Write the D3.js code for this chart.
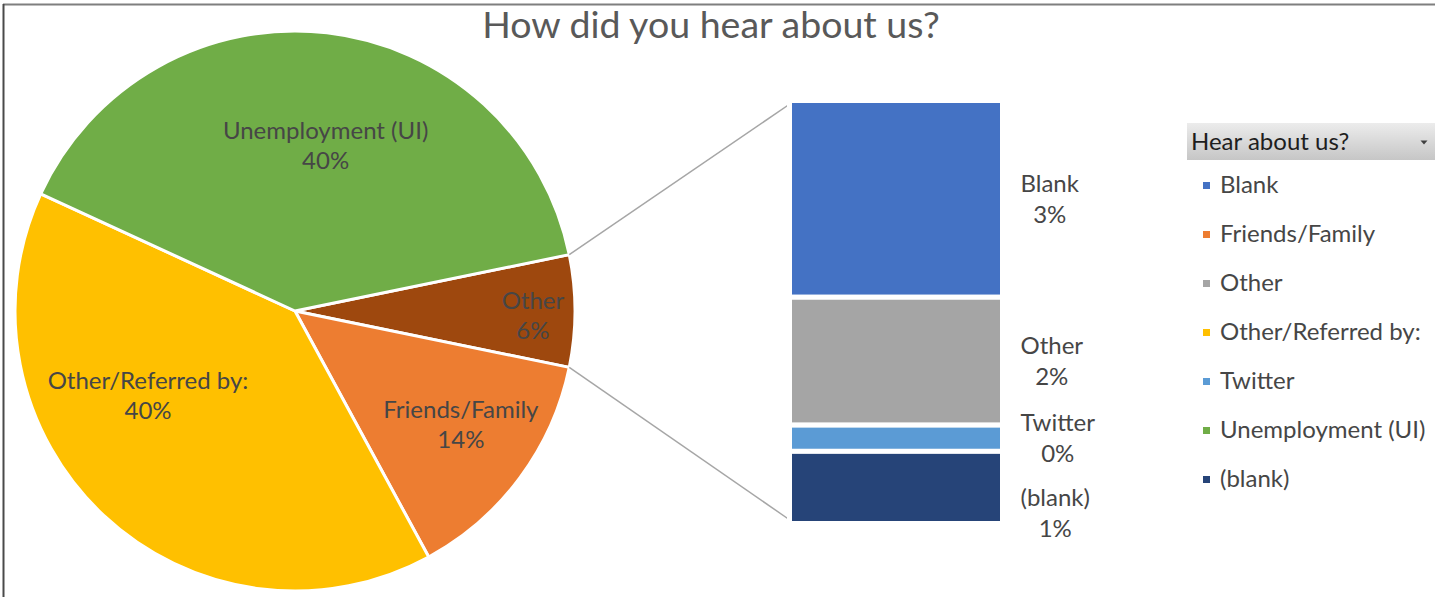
<!DOCTYPE html>
<html>
<head>
<meta charset="utf-8">
<script src="https://cdnjs.cloudflare.com/ajax/libs/d3/7.8.5/d3.min.js"></script>
<style>
    body { margin: 0; background: white; }
    svg { display: block; }
    text { font-family: Lato, "Noto Sans", sans-serif; }
</style>
</head>
<body>
<div id="chart"></div>
<script>
    // pie slices (percent of responses)
    const pieNames = ["Unemployment (UI)", "Other/Referred by:", "Friends/Family"]
    const pieValues = [39.9, 39.8, 13.85]
    // the small ones that get split into the bar
    const barNames = ["Blank", "Other", "Twitter", "(blank)"]
    const barValues = [3.0, 1.95, 0.4, 1.1]
    const legendNames = ["Blank", "Friends/Family", "Other", "Other/Referred by:", "Twitter", "Unemployment (UI)", "(blank)"]

    const colors = {
        "Blank": "#4472c4",
        "Friends/Family": "#ed7d31",
        "Other": "#a5a5a5",
        "Other/Referred by:": "#ffc000",
        "Twitter": "#5b9bd5",
        "Unemployment (UI)": "#70ad47",
        "(blank)": "#264478"
    }
    const otherSliceColor = "#9e480e"

    const w = 1435, h = 597
    const cx = 295, cy = 311, r = 280
    const labelColor = "#464646"
    const fs = 24

    const svg = d3.select("#chart").append("svg")
        .attr("width", w)
        .attr("height", h)

    // frame (only top and left edges show in the screenshot)
    svg.append("line").attr("x1", 3).attr("x2", w).attr("y1", 4.5).attr("y2", 4.5)
        .attr("stroke", "#7f7f7f").attr("stroke-width", 2)
    svg.append("line").attr("x1", 3.5).attr("x2", 3.5).attr("y1", 4).attr("y2", h)
        .attr("stroke", "#4a4a4a").attr("stroke-width", 2)

    svg.append("text")
        .attr("x", 711).attr("y", 38)
        .attr("text-anchor", "middle")
        .attr("font-size", 37.5)
        .attr("fill", "#595959")
        .text("How did you hear about us?")

    const otherTotal = d3.sum(barValues)
    const total = d3.sum(pieValues) + otherTotal
    const pct = v => Math.round(v / total * 100) + "%"

    // excel order going clockwise from the 3 o'clock "Other" slice
    const order = ["Other", "Friends/Family", "Other/Referred by:", "Unemployment (UI)"]
    const slices = [{ name: "Other", value: otherTotal, color: otherSliceColor }]
        .concat(pieNames.map((n, i) => ({ name: n, value: pieValues[i], color: colors[n] })))
    slices.sort((a, b) => order.indexOf(a.name) - order.indexOf(b.name))

    const otherAngle = 2 * Math.PI * otherTotal / total
    const a0 = Math.PI / 2 - otherAngle / 2
    const pie = d3.pie().sort(null).value(d => d.value)
        .startAngle(a0).endAngle(a0 + 2 * Math.PI)
    const arcs = pie(slices)
    const arc = d3.arc().innerRadius(0).outerRadius(r)

    const g = svg.append("g").attr("transform", `translate(${cx},${cy})`)
    g.selectAll("path")
        .data(arcs)
        .enter()
        .append("path")
        .attr("d", arc)
        .attr("fill", d => d.data.color)
        .attr("stroke", "white")
        .attr("stroke-width", 3)
        .attr("stroke-linejoin", "round")

    // where excel put the labels (radius fraction, angle nudge in degrees)
    const labelPlace = {
        "Unemployment (UI)": [0.596, 4],
        "Other/Referred by:": [0.608, 16.6],
        "Friends/Family": [0.721, -1.8],
        "Other": [0.85, 1.4]
    }
    const pieLabels = g.selectAll("text.pl")
        .data(arcs)
        .enter()
        .append("text")
        .attr("class", "pl")
        .attr("text-anchor", "middle")
        .attr("font-size", fs)
        .attr("fill", labelColor)
        .attr("transform", d => {
            const p = labelPlace[d.data.name]
            const a = (d.startAngle + d.endAngle) / 2 + p[1] * Math.PI / 180
            const rr = r * p[0]
            return `translate(${rr * Math.sin(a)},${-rr * Math.cos(a)})`
        })
    pieLabels.append("tspan").attr("x", 0).attr("dy", -8).text(d => d.data.name)
    pieLabels.append("tspan").attr("x", 0).attr("dy", 30).text(d => pct(d.value))

    // bar of the split slice
    const barX = 789.5, barW = 213
    const y = d3.scaleLinear().domain([0, otherTotal]).range([100.5, 523.5])
    const stack = []
    let acc = 0
    barNames.forEach((n, i) => {
        stack.push({ name: n, value: barValues[i], y0: acc, y1: acc + barValues[i] })
        acc += barValues[i]
    })

    // connector lines from the pie slice edges to the bar corners
    const otherArc = arcs.find(d => d.data.name === "Other")
    const edge = a => [cx + r * Math.sin(a), cy - r * Math.cos(a)]
    const conns = [[edge(otherArc.startAngle), [barX + 2.5, y(0) + 2]],
                   [edge(otherArc.endAngle), [barX + 2.5, y(otherTotal) - 2]]]
    svg.selectAll("line.conn")
        .data(conns)
        .enter()
        .append("line")
        .attr("class", "conn")
        .attr("x1", d => d[0][0]).attr("y1", d => d[0][1])
        .attr("x2", d => d[1][0]).attr("y2", d => d[1][1])
        .attr("stroke", "#a6a6a6")
        .attr("stroke-width", 1.5)

    svg.selectAll("rect.seg")
        .data(stack)
        .enter()
        .append("rect")
        .attr("class", "seg")
        .attr("x", barX)
        .attr("width", barW)
        .attr("y", d => y(d.y0))
        .attr("height", d => y(d.y1) - y(d.y0))
        .attr("fill", d => colors[d.name])
        .attr("stroke", "white")
        .attr("stroke-width", 5)

    // bar labels, pushed down when they would collide
    let prev = -1e9
    stack.forEach(d => {
        d.ly = Math.max((y(d.y0) + y(d.y1)) / 2, prev + 75)
        prev = d.ly
    })
    const barLabels = svg.selectAll("text.bl")
        .data(stack)
        .enter()
        .append("text")
        .attr("class", "bl")
        .attr("text-anchor", "middle")
        .attr("font-size", fs)
        .attr("fill", labelColor)
    barLabels.append("tspan").attr("dy", -7).text(d => d.name)
    barLabels.append("tspan").attr("dy", 31).text(d => pct(d.value))
    barLabels.each(function (d) {
        const t = d3.select(this)
        const bw = d3.max(t.selectAll("tspan").nodes(), n => n.getComputedTextLength())
        const lx = barX + barW + 18 + bw / 2
        t.attr("transform", `translate(0,${d.ly})`)
        t.selectAll("tspan").attr("x", lx)
    })

    // legend (pivot chart style with a field button on top)
    const defs = svg.append("defs")
    const grad = defs.append("linearGradient").attr("id", "hdr")
        .attr("x1", 0).attr("x2", 0).attr("y1", 0).attr("y2", 1)
    grad.append("stop").attr("offset", 0).attr("stop-color", "#ececec")
    grad.append("stop").attr("offset", 1).attr("stop-color", "#c6c6c6")
    const lg = svg.append("g").attr("transform", "translate(1187,123)")
    lg.append("rect").attr("width", 260).attr("height", 37).attr("fill", "url(#hdr)")
    lg.append("text").attr("x", 4).attr("y", 27).attr("font-size", fs).attr("fill", "#1e1e1e")
        .text("Hear about us?")
    lg.append("path").attr("d", "M233.5,17.5 l7,0 l-3.5,4z").attr("fill", "#404040")

    const ly = d3.scalePoint().domain(legendNames).range([185, 479])
    const items = svg.selectAll("g.li")
        .data(legendNames)
        .enter()
        .append("g")
        .attr("class", "li")
        .attr("transform", d => `translate(1203,${ly(d)})`)
    items.append("rect").attr("x", 0).attr("y", -3).attr("width", 7).attr("height", 7)
        .attr("fill", d => colors[d])
    items.append("text").attr("x", 17).attr("y", 8).attr("font-size", fs).attr("fill", labelColor)
        .text(d => d)
</script>
</body>
</html>
